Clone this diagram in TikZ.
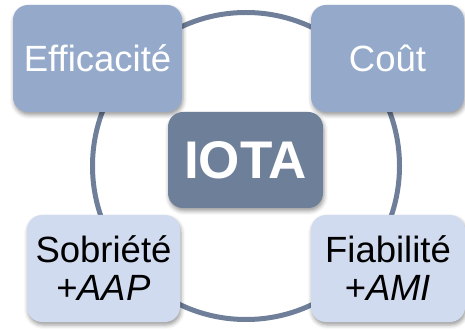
\documentclass[tikz,border=0pt]{standalone}
\usepackage{fontspec}
\setmainfont{Liberation Sans}
\usepackage{xcolor}
\usetikzlibrary{shadows.blur}

\definecolor{ringcol}{HTML}{6F7F99}
\definecolor{topfill}{HTML}{95AACB}
\definecolor{corefill}{HTML}{6E7F99}
\definecolor{lowfill}{HTML}{D0DBEF}

\begin{document}
\begin{tikzpicture}[x=1pt, y=1pt,
  box/.style={rectangle, rounded corners=15pt, align=center, inner sep=0pt,
              minimum height=107pt, font=\fontsize{36.5}{38}\selectfont,
              blur shadow={shadow xshift=1pt, shadow yshift=-3pt, shadow blur radius=4pt, shadow opacity=40}},
  topbox/.style={box, fill=topfill, text=white},
  lowbox/.style={box, fill=lowfill, text=black},
  corebox/.style={box, fill=corefill, text=white, minimum width=155pt, minimum height=96pt,
                  font=\fontsize{53}{55}\selectfont\bfseries}
]
\useasboundingbox (0,0) rectangle (465,329);

%% ---- ring ----
\draw[ringcol, line width=5pt] (246,163) circle (153.5);

%% ---- boxes ----
\node[topbox, minimum width=169pt] at (97.5,270.5) (eff)  {Efficacité};
\node[topbox, minimum width=153pt] at (387.5,270.5) (cout) {Coût};
\node[corebox] at (245.5,169) (iota) {IOTA};
\node[lowbox, minimum width=153pt] at (103.5,60.5) (sob) {Sobriété\\+\textit{AAP}};
\node[lowbox, minimum width=154pt] at (388,60.5) (fia) {Fiabilité\\+\textit{AMI}};
\end{tikzpicture}
\end{document}
